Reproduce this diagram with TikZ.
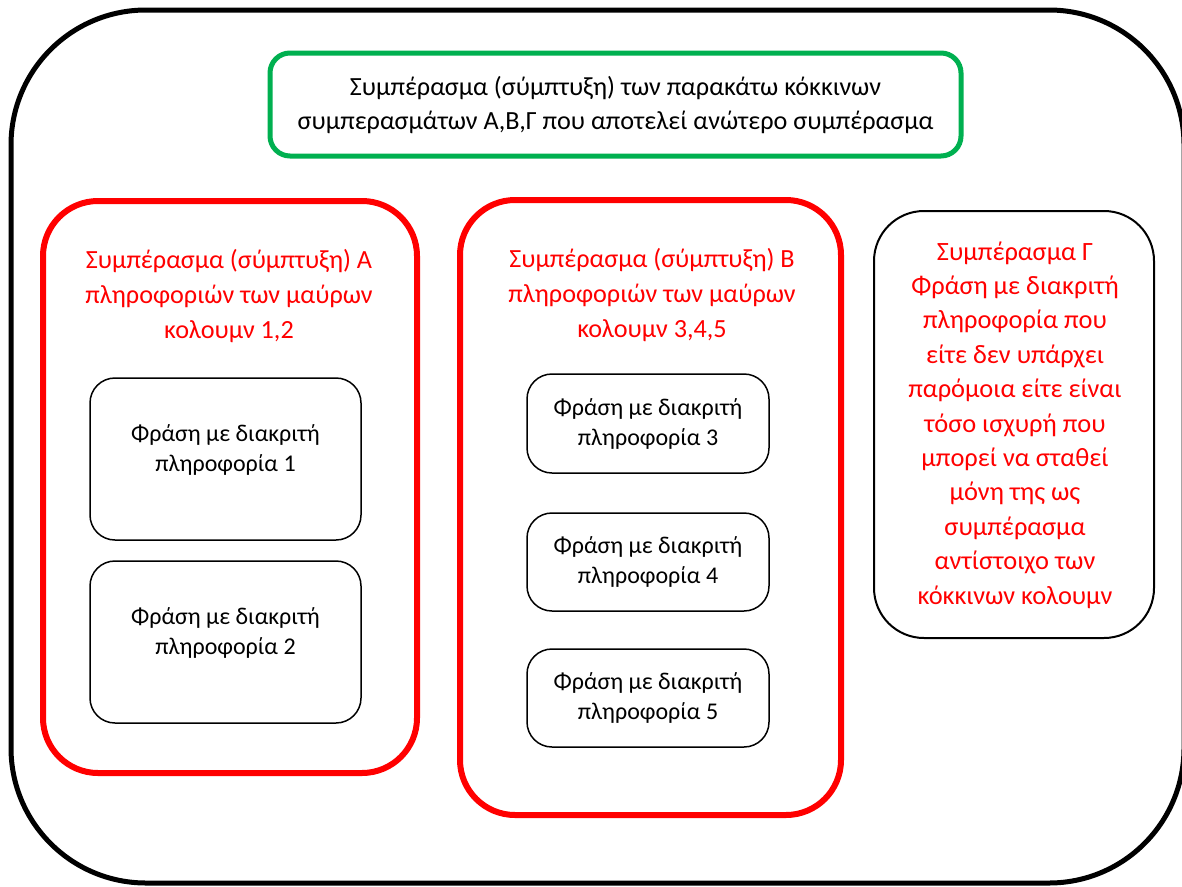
\documentclass[tikz,border=0pt]{standalone}
\usepackage{fontspec}
\setmainfont{Carlito}
\definecolor{offgreen}{RGB}{0,176,80}
\definecolor{offred}{RGB}{255,0,0}
\begin{document}
\begin{tikzpicture}[x=1pt,y=-1pt,
  outerbox/.style={draw=black,line width=5pt,rounded corners=135pt,inner sep=0pt,outer sep=0pt},
  greenbox/.style={draw=offgreen,line width=5pt,rounded corners=20pt,inner sep=0pt},
  redbox/.style={draw=offred,line width=6pt,rounded corners=55pt,inner sep=0pt},
  gbox/.style={draw=black,line width=2pt,rounded corners=50pt,inner sep=0pt},
  infobox/.style={draw=black,line width=1.5pt,rounded corners=25pt,inner sep=0pt},
  redtxt/.style={text=offred,align=center,inner sep=0pt,font=\fontsize{26.2}{35}\selectfont},
  blacktxt/.style={text=black,align=center,inner sep=0pt,font=\fontsize{24}{30}\selectfont},
  greentxt/.style={text=black,align=center,inner sep=0pt,font=\fontsize{26.2}{34}\selectfont},
  gtxt/.style={text=offred,align=center,inner sep=0pt,font=\fontsize{26.4}{34.4}\selectfont}
]
\useasboundingbox[fill=white] (0,0) rectangle (1182,886);
\node[outerbox,minimum width=1173pt,minimum height=873pt] (outer) at (597.5,446.5) {};
\node[greenbox,minimum width=691pt,minimum height=103pt] (green) at (615.5,104.5) {};
\node[greentxt] (greent) at (615.5,105) {Συμπέρασμα (σύμπτυξη) των παρακάτω κόκκινων\\συμπερασμάτων Α,Β,Γ που αποτελεί ανώτερο συμπέρασμα};
% red box A
\node[redbox,minimum width=374pt,minimum height=572pt] (ra) at (230,487) {};
\node[redtxt] (rat) at (229,296.5) {Συμπέρασμα (σύμπτυξη) Α\\πληροφοριών των μαύρων\\κολουμν 1,2};
\node[infobox,minimum width=271pt,minimum height=162pt] (b1) at (225.5,459) {};
\node[blacktxt] (b1t) at (225.5,450) {Φράση με διακριτή\\πληροφορία 1};
\node[infobox,minimum width=271pt,minimum height=162pt] (b2) at (225.5,642) {};
\node[blacktxt] (b2t) at (225.5,633) {Φράση με διακριτή\\πληροφορία 2};
% red box B
\node[redbox,minimum width=381pt,minimum height=615pt] (rb) at (650.5,507.5) {};
\node[redtxt] (rbt) at (652,295) {Συμπέρασμα (σύμπτυξη) Β\\πληροφοριών των μαύρων\\κολουμν 3,4,5};
\node[infobox,minimum width=242pt,minimum height=99pt,blacktxt] (b3) at (648,423.5) {Φράση με διακριτή\\πληροφορία 3};
\node[infobox,minimum width=242pt,minimum height=98pt,blacktxt] (b4) at (648,562) {Φράση με διακριτή\\πληροφορία 4};
\node[infobox,minimum width=242pt,minimum height=98pt,blacktxt] (b5) at (648,698) {Φράση με διακριτή\\πληροφορία 5};
% box Gamma
\node[gbox,minimum width=280pt,minimum height=427pt] (gb) at (1014,424.5) {};
\node[gtxt] (gbt) at (1015,425) {Συμπέρασμα Γ\\Φράση με διακριτή\\πληροφορία που\\είτε δεν υπάρχει\\παρόμοια είτε είναι\\τόσο ισχυρή που\\μπορεί να σταθεί\\μόνη της ως\\συμπέρασμα\\αντίστοιχο των\\κόκκινων κολουμν};
\end{tikzpicture}
\end{document}
